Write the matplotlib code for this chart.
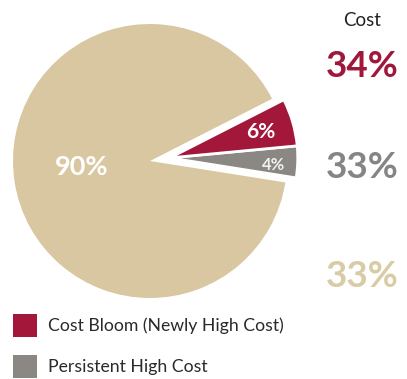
import numpy as np
import matplotlib
matplotlib.use("Agg")
import matplotlib.pyplot as plt
from matplotlib.patches import Patch

plt.rcParams['font.family'] = ['Lato', 'DejaVu Sans']

# Share of members by cost group (drawn counter-clockwise from the start angle)
groups = ["Persistent High Cost", "Cost Bloom (Newly High Cost)", "Other"]
member_share = [4, 6, 90]
cost_share = [33, 34, 33]
colors = ["#8B8883", "#A3173A", "#D9C7A1"]
text_colors = ["#858585", "#A0173C", "#D8CBA6"]
legend_groups = ["Cost Bloom (Newly High Cost)", "Persistent High Cost"]

W, H = 407, 379
fig = plt.figure(figsize=(W / 100, H / 100), dpi=100)
ax = fig.add_axes([0, 0, 1, 1])

cx, cy = 150, H - 161
start = -9

# Main (unexploded) slice
big, _ = ax.pie(member_share, colors=["none", "none", colors[2]], startangle=start,
                counterclock=True, center=(cx, cy), radius=137,
                wedgeprops=dict(linewidth=0), frame=True)

# The two small slices are pulled out together along their shared bisector
mid = np.deg2rad(start + 360 * (member_share[0] + member_share[1]) / sum(member_share) / 2)
shift = 20
small, _ = ax.pie(member_share, colors=[colors[0], colors[1], "none"], startangle=start,
                  counterclock=True,
                  center=(cx + shift * np.cos(mid), cy + shift * np.sin(mid)),
                  radius=128, frame=True,
                  wedgeprops=dict(linewidth=2.0, edgecolor="white"))
small[2].set_edgecolor("none")

ax.set_xlim(0, W)
ax.set_ylim(0, H)
ax.set_aspect("equal")
ax.axis("off")

# Percentage labels inside slices
ax.text(261, H - 138, f"{member_share[1]}%", color="white", fontsize=15,
        fontweight="bold", ha="center", va="baseline")
ax.text(274, H - 170, f"{member_share[0]}%", color="#F0F0F0", fontsize=12,
        fontweight="bold", ha="center", va="baseline")
ax.text(82, H - 175, f"{member_share[2]}%", color="white", fontsize=19.5,
        fontweight="bold", ha="center", va="baseline")

# Cost share column
ax.text(362.5, H - 26.5, "Cost", color="#222222", fontsize=13.5, ha="center",
        va="baseline")
col_base = {1: 77, 0: 178, 2: 287}
for i in (1, 0, 2):
    ax.text(362.5, H - col_base[i], f"{cost_share[i]}%", color=text_colors[i],
            fontsize=26.5, fontweight="bold", ha="center", va="baseline")

# Legend
handles = [Patch(facecolor=colors[1], edgecolor="none"),
           Patch(facecolor=colors[0], edgecolor="none")]
ax.legend(handles, legend_groups, loc="upper left",
          bbox_to_anchor=(13 / W, 1 - 314 / H), frameon=False,
          borderpad=0, borderaxespad=0,
          handlelength=1.36, handleheight=1.63, labelspacing=1.03,
          handletextpad=0.62, fontsize=12.7, labelcolor="#2A2A2A")

fig.savefig("out.png", dpi=100, facecolor="white")
